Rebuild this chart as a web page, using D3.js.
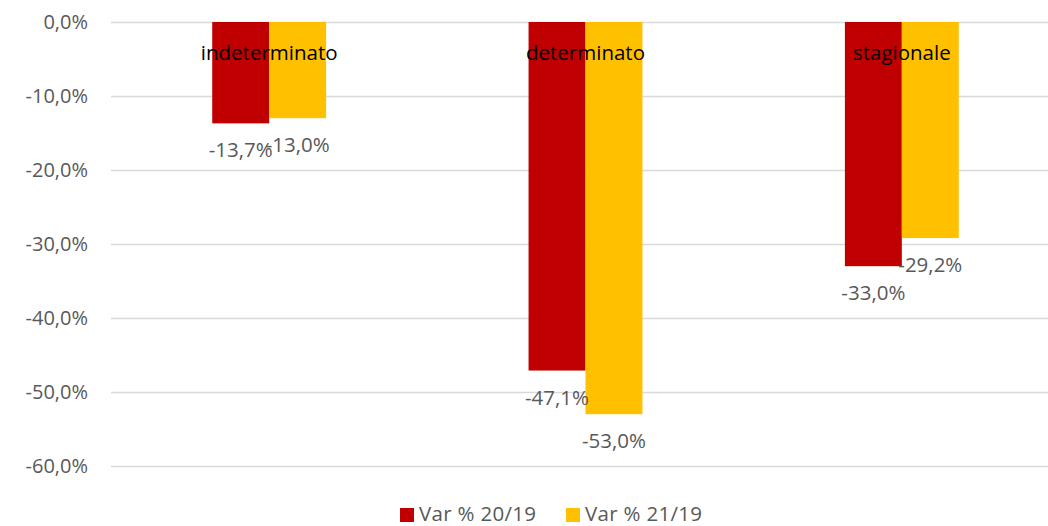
<!DOCTYPE html>
<html><head><meta charset="utf-8">
<script src="https://cdn.jsdelivr.net/npm/d3@7"></script>
<style>body{margin:0;background:#fff}svg{display:block}</style>
</head><body>
<svg id="c" width="1048" height="526"></svg>
<script>
const categories = ["indeterminato", "determinato", "stagionale"];
const seriesNames = ["Var % 20/19", "Var % 21/19"];
const var2019 = [-13.7, -47.1, -33.0];
const var2119 = [-13.0, -53.0, -29.2];
const yTicks = [0, -10, -20, -30, -40, -50, -60];
const colors = ["#C00000", "#FFC000"];

const loc = d3.formatLocale({decimal: ",", thousands: ".", grouping: [3], currency: ["", "€"], minus: "-"});
const fmt = v => loc.format(".1f")(v) + "%";

const svg = d3.select("#c");
const font = "'Open Sans', sans-serif";
const series = [var2019, var2119];

const x0 = d3.scaleBand().domain(categories).range([111, 1060]).paddingInner(0.64).paddingOuter(0.32);
const x1 = d3.scaleBand().domain([0, 1]).range([0, x0.bandwidth()]);
const y = d3.scaleLinear().domain([0, -60]).range([22, 466]);

// gridlines
const yAxis = d3.axisLeft(y).tickValues(yTicks).tickSize(-(1048 - 111)).tickFormat(fmt).tickPadding(23);
const ga = svg.append("g").attr("transform", "translate(111,0)").call(yAxis);
ga.select(".domain").remove();
ga.selectAll(".tick line").attr("stroke", "#d9d9d9").attr("stroke-width", 1.3);
ga.selectAll(".tick text").attr("fill", "#595959").attr("dy", "0.33em").style("font-family", font).style("font-size", "20px");

// bars
const gb = svg.append("g");
categories.forEach((c, i) => {
  series.forEach((s, j) => {
    const v = s[i];
    gb.append("rect")
      .attr("x", x0(c) + x1(j))
      .attr("y", y(0))
      .attr("width", x1.bandwidth())
      .attr("height", y(v) - y(0))
      .attr("fill", colors[j]);
  });
});
// category labels
categories.forEach(c => {
  svg.append("text").attr("x", x0(c) + x0.bandwidth() / 2).attr("y", 60)
    .attr("text-anchor", "middle").attr("fill", "#000")
    .style("font-family", font).style("font-size", "20.5px").text(c);
});
// value labels
categories.forEach((c, i) => {
  series.forEach((s, j) => {
    const v = s[i];
    svg.append("text")
      .attr("x", x0(c) + x1(j) + x1.bandwidth() / 2)
      .attr("y", y(v) + 34)
      .attr("text-anchor", "middle").attr("fill", "#595959")
      .style("font-family", font).style("font-size", "20.5px").text(fmt(v));
  });
});
// legend
const legX = [400, 566];
seriesNames.forEach((n, j) => {
  svg.append("rect").attr("x", legX[j]).attr("y", 508).attr("width", 14).attr("height", 14).attr("fill", colors[j]);
  svg.append("text").attr("x", legX[j] + 19).attr("y", 521).attr("fill", "#595959")
    .style("font-family", font).style("font-size", "20.5px").style("letter-spacing", "0.3px").text(n);
});
</script>
</body></html>
